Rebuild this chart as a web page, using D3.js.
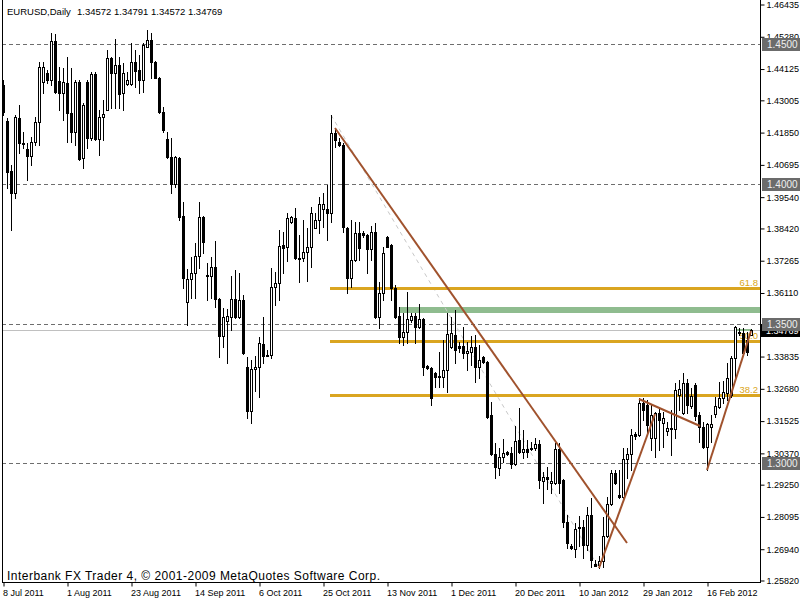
<!DOCTYPE html>
<html><head><meta charset="utf-8">
<script src="https://cdn.jsdelivr.net/npm/d3@7"></script>
<style>html,body{margin:0;padding:0;background:#fff;}svg{display:block;}</style>
</head><body>
<script>
// ---- data ----
const symbolTitle = "EURUSD,Daily";
const lastQuote = [1.34572, 1.34791, 1.34572, 1.34769];
const dateLabels = ["8 Jul 2011","1 Aug 2011","23 Aug 2011","14 Sep 2011","6 Oct 2011","25 Oct 2011","13 Nov 2011","1 Dec 2011","20 Dec 2011","10 Jan 2012","29 Jan 2012","16 Feb 2012"];
const dateLabelBars = [0,16,32,48,64,80,96,112,128,144,160,176];
const priceTicks = [1.46435,1.45280,1.44125,1.43005,1.41850,1.40695,1.39540,1.38420,1.37265,1.36110,1.34955,1.33835,1.32680,1.31525,1.30370,1.29250,1.28095,1.26940,1.25820];
const hiddenTicks = [1.34955];
const roundLevels = [1.4500,1.4000,1.3500,1.3000];
const fibLevels = [1.3627,1.3436,1.3244];
const fibNames = ["61.8","50.0","38.2"];
const fibAnchor = [{bar:82,price:1.42462},{bar:149,price:1.26249}];
const zoneBand = {bar:99, lo:1.3538, hi:1.3559};
const smallBand = {bar0:183, bar1:187, lo:1.3474, hi:1.3480};
const trendLines = [
  [{bar:83,price:1.41997},{bar:156,price:1.27144}],
  [{bar:149,price:1.26249},{bar:163,price:1.31761}],
  [{bar:159,price:1.32298},{bar:174.25,price:1.31331}],
  [{bar:176,price:1.29756},{bar:187,price:1.34731}]
];
const opens = [1.4354,1.4224,1.4045,1.3967,1.4235,1.4146,1.4125,1.4100,1.4150,1.4221,1.4365,1.4396,1.4372,1.4511,1.4368,1.4325,1.4361,1.4253,1.4185,1.4365,
1.4093,1.4365,1.4164,1.4393,1.4160,1.4239,1.4264,1.4450,1.4396,1.4425,1.4325,1.4357,1.4357,1.4436,1.4407,1.4372,1.4490,1.4515,1.4436,1.4379,
1.4257,1.4160,1.4096,1.3999,1.4093,1.3885,1.3577,1.3659,1.3681,1.3742,1.3881,1.3674,1.3670,1.3702,1.3588,1.3455,1.3509,1.3523,1.3588,1.3523,
1.3584,1.3345,1.3187,1.3338,1.3345,1.3427,1.3384,1.3387,1.3631,1.3645,1.3781,1.3774,1.3863,1.3877,1.3734,1.3734,1.3756,1.3774,1.3842,1.3870,
1.3910,1.3910,1.3895,1.4182,1.4150,1.4139,1.3842,1.3663,1.3727,1.3824,1.3824,1.3817,1.3767,1.3828,1.3523,1.3609,1.3810,1.3781,1.3627,1.3527,
1.3452,1.3470,1.3513,1.3527,1.3488,1.3516,1.3348,1.3341,1.3323,1.3309,1.3309,1.3334,1.3416,1.3459,1.3420,1.3420,1.3395,1.3398,1.3416,1.3345,
1.3380,1.3362,1.3172,1.3033,1.2983,1.3022,1.3040,1.3036,1.2997,1.3083,1.3040,1.3051,1.3051,1.3054,1.3069,1.2936,1.2951,1.2929,1.2929,1.3051,
1.2940,1.2789,1.2704,1.2693,1.2772,1.2772,1.2707,1.2814,1.2639,1.2636,1.2650,1.2739,1.2854,1.2965,1.2886,1.2879,1.3015,1.3033,1.3104,1.3101,
1.3215,1.3208,1.3090,1.3090,1.3180,1.3144,1.3115,1.3126,1.3122,1.3244,1.3180,1.3287,1.3205,1.3280,1.3172,1.3129,1.3058,1.3129,1.3176,1.3201,
1.3233,1.3251,1.3244,1.3377,1.3470,1.3466,1.3441,1.34572];
const highs = [1.4372,1.4235,1.4067,1.4246,1.4282,1.4185,1.4146,1.4168,1.4239,1.4436,1.4436,1.4407,1.4540,1.4536,1.4418,1.4414,1.4454,1.4414,1.4372,1.4372,
1.4289,1.4372,1.4400,1.4400,1.4264,1.4300,1.4479,1.4454,1.4518,1.4454,1.4432,1.4400,1.4504,1.4479,1.4461,1.4504,1.4550,1.4540,1.4440,1.4382,
1.4275,1.4185,1.4164,1.4100,1.4096,1.3935,1.3695,1.3738,1.3788,1.3935,1.3885,1.3716,1.3738,1.3795,1.3591,1.3555,1.3552,1.3670,1.3691,1.3681,
1.3602,1.3380,1.3369,1.3384,1.3452,1.3523,1.3405,1.3699,1.3684,1.3835,1.3828,1.3895,1.3885,1.3913,1.3817,1.3870,1.3842,1.3917,1.3895,1.3953,
1.3967,1.3996,1.4246,1.4200,1.4164,1.4146,1.3845,1.3870,1.3863,1.3863,1.3831,1.3820,1.3849,1.3860,1.3649,1.3774,1.3813,1.3784,1.3638,1.3559,
1.3538,1.3613,1.3538,1.3538,1.3570,1.3520,1.3352,1.3345,1.3327,1.3398,1.3441,1.3538,1.3523,1.3548,1.3434,1.3488,1.3434,1.3455,1.3459,1.3423,
1.3384,1.3366,1.3219,1.3072,1.3054,1.3086,1.3043,1.3058,1.3133,1.3198,1.3119,1.3083,1.3076,1.3090,1.3083,1.2968,1.2986,1.2968,1.3072,1.3072,
1.2943,1.2814,1.2711,1.2786,1.2811,1.2797,1.2843,1.2875,1.2654,1.2668,1.2807,1.2879,1.2976,1.2976,1.2976,1.3054,1.3054,1.3122,1.3112,1.3233,
1.3233,1.3226,1.3208,1.3183,1.3198,1.3183,1.3147,1.3190,1.3287,1.3298,1.3323,1.3301,1.3269,1.3287,1.3183,1.3147,1.3144,1.3172,1.3237,1.3291,
1.3294,1.3359,1.3384,1.3491,1.3484,1.3484,1.3470,1.34791];
const lows = [1.4246,1.3985,1.3835,1.3949,1.4110,1.4128,1.4014,1.4067,1.4139,1.4139,1.4325,1.4361,1.4354,1.4325,1.4264,1.4228,1.4150,1.4150,1.4139,1.4085,
1.4057,1.4128,1.4157,1.4157,1.4103,1.4157,1.4264,1.4271,1.4271,1.4271,1.4264,1.4354,1.4354,1.4347,1.4325,1.4329,1.4490,1.4379,1.4379,1.4254,
1.4185,1.4092,1.3967,1.3989,1.3870,1.3627,1.3495,1.3591,1.3591,1.3699,1.3752,1.3584,1.3591,1.3559,1.3380,1.3416,1.3359,1.3477,1.3520,1.3520,
1.3391,1.3162,1.3144,1.3258,1.3237,1.3359,1.3384,1.3377,1.3566,1.3584,1.3681,1.3724,1.3860,1.3731,1.3649,1.3724,1.3652,1.3702,1.3842,1.3824,
1.3845,1.3799,1.3863,1.4132,1.4135,1.3828,1.3609,1.3631,1.3724,1.3727,1.3810,1.3681,1.3727,1.3520,1.3484,1.3584,1.3774,1.3584,1.3520,1.3430,
1.3423,1.3430,1.3506,1.3430,1.3484,1.3316,1.3338,1.3208,1.3273,1.3273,1.3273,1.3255,1.3413,1.3359,1.3398,1.3377,1.3334,1.3352,1.3291,1.3305,
1.3359,1.3162,1.3029,1.2947,1.2958,1.3004,1.3029,1.2983,1.2993,1.3036,1.3018,1.3022,1.3047,1.3047,1.2911,1.2857,1.2908,1.2893,1.2925,1.2893,
1.2772,1.2697,1.2693,1.2664,1.2704,1.2661,1.2689,1.2629,1.2632,1.2625,1.2629,1.2736,1.2850,1.2925,1.2875,1.2875,1.2947,1.2976,1.3086,1.3097,
1.3155,1.3108,1.3047,1.3022,1.3047,1.3058,1.3101,1.3029,1.3090,1.3190,1.3176,1.3180,1.3198,1.3155,1.3076,1.3054,1.2976,1.3076,1.3165,1.3198,
1.3215,1.3226,1.3237,1.3309,1.3459,1.3388,1.3388,1.34572];
const closes = [1.4257,1.4042,1.3967,1.4239,1.4146,1.4143,1.4100,1.4150,1.4221,1.4418,1.4418,1.4372,1.4511,1.4329,1.4325,1.4365,1.4253,1.4185,1.4365,1.4089,
1.4282,1.4164,1.4393,1.4160,1.4239,1.4250,1.4450,1.4396,1.4425,1.4322,1.4396,1.4372,1.4436,1.4404,1.4372,1.4497,1.4515,1.4436,1.4379,1.4257,
1.4193,1.4096,1.3999,1.4096,1.3881,1.3663,1.3659,1.3681,1.3742,1.3881,1.3792,1.3670,1.3702,1.3588,1.3455,1.3523,1.3527,1.3588,1.3523,1.3584,
1.3395,1.3187,1.3338,1.3345,1.3430,1.3384,1.3387,1.3631,1.3645,1.3777,1.3770,1.3877,1.3881,1.3734,1.3731,1.3756,1.3774,1.3895,1.3870,1.3928,
1.3928,1.3895,1.4182,1.4157,1.4139,1.3845,1.3663,1.3727,1.3824,1.3770,1.3817,1.3767,1.3828,1.3523,1.3609,1.3752,1.3774,1.3627,1.3523,1.3452,
1.3470,1.3516,1.3527,1.3488,1.3516,1.3345,1.3341,1.3233,1.3309,1.3312,1.3334,1.3463,1.3466,1.3405,1.3413,1.3395,1.3402,1.3416,1.3345,1.3369,
1.3362,1.3165,1.3033,1.2986,1.3022,1.3036,1.3033,1.2997,1.3079,1.3040,1.3051,1.3040,1.3054,1.3069,1.2940,1.2951,1.2943,1.2936,1.3051,1.2929,
1.2789,1.2714,1.2697,1.2765,1.2768,1.2707,1.2814,1.2654,1.2632,1.2650,1.2739,1.2854,1.2965,1.2929,1.2879,1.3015,1.3033,1.3101,1.3097,1.3215,
1.3190,1.3137,1.3172,1.3180,1.3155,1.3162,1.3126,1.3122,1.3262,1.3266,1.3287,1.3208,1.3240,1.3169,1.3129,1.3058,1.3140,1.3140,1.3205,1.3233,
1.3255,1.3305,1.3377,1.3488,1.3466,1.3395,1.3398,1.34769];

// ---- layout ----
const W = 800, H = 600;
const plotLeft = 2, plotRight = 760, plotBottom = 582;
const FONT = "'Liberation Sans', Arial, sans-serif";
const nBars = opens.length;
const x = d3.scaleLinear().domain([0, nBars - 1]).range([3, 3 + 4 * (nBars - 1)]);
const y = d3.scaleLinear().domain([1.2582, 1.46435]).range([580, 4]);
const ry = v => Math.round(y(v));

const svg = d3.select("body").append("svg").attr("width", W).attr("height", H)
  .style("font-family", FONT);
svg.append("rect").attr("width", W).attr("height", H).attr("fill", "#fff");

const bg = svg.append("g");
bg.selectAll("line.lvl").data(roundLevels).join("line")
  .attr("x1", plotLeft).attr("x2", plotRight)
  .attr("y1", d => ry(d) + 0.5).attr("y2", d => ry(d) + 0.5)
  .attr("stroke", "#6e6e6e").attr("stroke-dasharray", "4,3");
bg.append("line").attr("x1", plotLeft).attr("x2", plotRight)
  .attr("y1", ry(lastQuote[3]) + 0.5).attr("y2", ry(lastQuote[3]) + 0.5)
  .attr("stroke", "#c0c0c0");
bg.append("rect").attr("x", Math.round(x(zoneBand.bar))).attr("width", plotRight - Math.round(x(zoneBand.bar)))
  .attr("y", ry(zoneBand.hi)).attr("height", ry(zoneBand.lo) - ry(zoneBand.hi))
  .attr("fill", "#8fbc8f");
bg.append("rect").attr("x", Math.round(x(smallBand.bar0))).attr("width", Math.round(x(smallBand.bar1)) - Math.round(x(smallBand.bar0)))
  .attr("y", ry(smallBand.hi)).attr("height", Math.max(2, ry(smallBand.lo) - ry(smallBand.hi)))
  .attr("fill", "#8fbc8f");
bg.append("line")
  .attr("x1", x(fibAnchor[0].bar)).attr("y1", y(fibAnchor[0].price))
  .attr("x2", x(fibAnchor[1].bar)).attr("y2", y(fibAnchor[1].price))
  .attr("stroke", "#c8c8c8").attr("stroke-dasharray", "4,4");
const fibX0 = Math.round(x(fibAnchor[0].bar)) - 1;
bg.selectAll("line.fib").data(fibLevels).join("line")
  .attr("x1", fibX0).attr("x2", plotRight)
  .attr("y1", d => ry(d) + 0.5).attr("y2", d => ry(d) + 0.5)
  .attr("stroke", "#daa520").attr("stroke-width", 3);
bg.selectAll("text.fib").data(fibLevels).join("text")
  .attr("x", 758).attr("y", d => ry(d) - 2)
  .attr("text-anchor", "end").attr("font-size", 9.5).attr("fill", "#daa520")
  .text((d, i) => fibNames[i]);

// candles
const bars = d3.range(nBars).map(i => ({i, o: opens[i], h: highs[i], l: lows[i], c: closes[i]}));
const cg = svg.append("g");
bars.forEach(d => {
  const cx = Math.round(x(d.i));
  const yh = ry(d.h), yl = ry(d.l);
  const top = ry(Math.max(d.o, d.c)), bot = ry(Math.min(d.o, d.c));
  cg.append("line").attr("x1", cx + 0.5).attr("x2", cx + 0.5).attr("y1", yh).attr("y2", yl + 1)
    .attr("stroke", "#000");
  if (bot - top < 1) {
    cg.append("line").attr("x1", cx - 1).attr("x2", cx + 2).attr("y1", top + 0.5).attr("y2", top + 0.5)
      .attr("stroke", "#000");
  } else if (d.c > d.o) {
    cg.append("rect").attr("x", cx - 0.5).attr("y", top + 0.5).attr("width", 2).attr("height", bot - top)
      .attr("fill", "#fff").attr("stroke", "#000");
  } else {
    cg.append("rect").attr("x", cx - 1).attr("y", top).attr("width", 3).attr("height", bot - top + 1)
      .attr("fill", "#000");
  }
});

// trend lines
const tl = d3.line().x(p => x(p.bar)).y(p => y(p.price));
svg.selectAll("path.trend").data(trendLines).join("path")
  .attr("d", tl).attr("fill", "none").attr("stroke", "#a0522d").attr("stroke-width", 2);

// frame
svg.append("line").attr("x1", plotLeft + 0.5).attr("x2", plotLeft + 0.5).attr("y1", 0).attr("y2", plotBottom + 1).attr("stroke", "#000");
svg.append("line").attr("x1", plotLeft).attr("x2", plotRight + 1).attr("y1", plotBottom + 0.5).attr("y2", plotBottom + 0.5).attr("stroke", "#000");
svg.append("line").attr("x1", plotRight + 0.5).attr("x2", plotRight + 0.5).attr("y1", 0).attr("y2", plotBottom + 1).attr("stroke", "#000");

// right price axis
const fmt5 = d3.format(".5f");
const yAxis = d3.axisRight(y).tickValues(priceTicks)
  .tickFormat(d => hiddenTicks.includes(d) ? "" : fmt5(d)).tickSize(4).tickPadding(2);
const ya = svg.append("g").attr("transform", `translate(${plotRight + 0.5},0.5)`).call(yAxis);
ya.select(".domain").remove();
ya.selectAll("text").attr("font-size", 9).attr("font-family", FONT).attr("fill", "#000");

// current price box (black)
const cpY = ry(lastQuote[3]);
svg.append("rect").attr("x", plotRight + 1).attr("y", cpY - 6).attr("width", W - plotRight - 1).attr("height", 13).attr("fill", "#000");
svg.append("text").attr("x", 766).attr("y", cpY + 3.5).attr("font-size", 9).attr("fill", "#fff").text(fmt5(lastQuote[3]));

// round level boxes
const lb = svg.selectAll("g.lvlbox").data(roundLevels).join("g");
lb.append("rect").attr("x", plotRight + 2).attr("y", d => ry(d) - 6).attr("width", W - plotRight - 2).attr("height", 13).attr("fill", "#6b6b6b");
lb.append("text").attr("x", 767).attr("y", d => ry(d) + 4).attr("font-size", 10).attr("fill", "#f0f0f0").text(d => d3.format(".4f")(d));

// bottom date axis
const xAxis = d3.axisBottom(x).tickValues(dateLabelBars).tickFormat((d, i) => dateLabels[i]).tickSize(4).tickPadding(3);
const xa = svg.append("g").attr("transform", `translate(0.5,${plotBottom + 0.5})`).call(xAxis);
xa.select(".domain").remove();
xa.selectAll("text").attr("text-anchor", "start").attr("x", -1).attr("font-size", 9).attr("font-family", FONT).attr("fill", "#000");

// title
svg.append("text").attr("x", 7).attr("y", 14.5).attr("font-size", 9.5).attr("fill", "#000").text(symbolTitle);
svg.append("text").attr("x", 77).attr("y", 14.5).attr("font-size", 9.5).attr("fill", "#000").text(lastQuote.map(fmt5).join(" "));

// copyright
svg.append("text").attr("x", 7).attr("y", 580).attr("font-size", 12).attr("fill", "#000")
  .attr("textLength", 373).attr("lengthAdjust", "spacing")
  .text("Interbank FX Trader 4, \u00a9 2001-2009 MetaQuotes Software Corp.");
</script>
</body></html>
